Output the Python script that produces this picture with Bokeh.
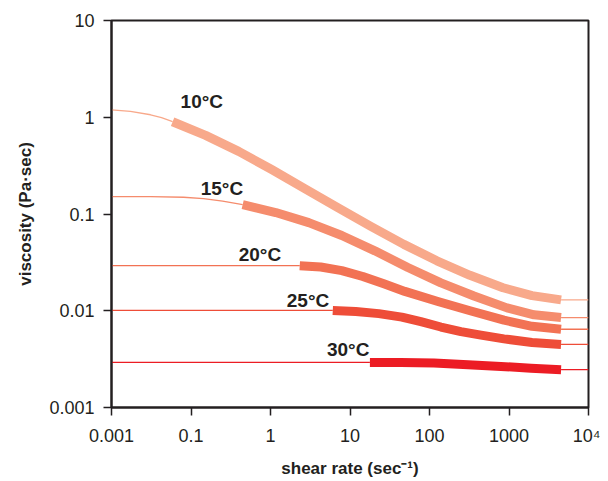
from bokeh.plotting import figure
from bokeh.models import FixedTicker, ColumnDataSource
from bokeh.core.properties import value
from bokeh.embed import file_html
from bokeh.resources import INLINE

# ---------------- data ----------------
temps = ["10°C", "15°C", "20°C", "25°C", "30°C"]
colors = ["#F8A98B", "#F58C6D", "#F27254", "#EE4D38", "#EC1C24"]

# measured range (thick segments): shear rate (1/s), viscosity (Pa·s)
meas_x_10 = [0.0587, 0.1527, 0.3977, 1.035, 2.696, 7.02, 18.28, 47.6, 123.9, 322.7, 840.4, 1949, 4517]
meas_y_10 = [0.899, 0.650, 0.4444, 0.2884, 0.1832, 0.1163, 0.0746, 0.0485, 0.03285, 0.02325, 0.0173, 0.01432, 0.01294]
meas_x_15 = [0.4466, 1.163, 3.028, 7.882, 20.53, 53.46, 139.2, 362.4, 943.6, 2064, 4517]
meas_y_15 = [0.1249, 0.1036, 0.0814, 0.0600, 0.0416, 0.02797, 0.01939, 0.01419, 0.01071, 0.00908, 0.00851]
meas_x_20 = [2.332, 4.287, 7.882, 14.50, 26.65, 48.99, 127.6, 332.2, 865.0, 1949, 4517]
meas_y_20 = [0.0292, 0.02829, 0.02599, 0.02261, 0.01897, 0.01585, 0.01246, 0.00993, 0.00799, 0.00690, 0.00644]
meas_x_25 = [6.072, 11.83, 23.05, 44.93, 77.93, 139.2, 248.6, 444.0, 865.0, 1949, 4517]
meas_y_25 = [0.01007, 0.00980, 0.00934, 0.00860, 0.00771, 0.00679, 0.00609, 0.00559, 0.00512, 0.00470, 0.00449]
meas_x_30 = [17.8, 43.6, 114, 305, 793, 1890, 4517]
meas_y_30 = [0.00292, 0.00291, 0.00288, 0.00277, 0.00266, 0.00254, 0.00246]

# model extension at low shear (thin segments)
low_x_10 = [0.01, 0.0173, 0.031, 0.0426, 0.0587]
low_y_10 = [1.19, 1.152, 1.061, 0.993, 0.899]
low_x_15 = [0.01, 0.031, 0.0807, 0.144, 0.250, 0.4466]
low_y_15 = [0.151, 0.151, 0.149, 0.1445, 0.1356, 0.1249]
low_x_20 = [0.01, 2.332]
low_y_20 = [0.0292, 0.0292]
low_x_25 = [0.01, 6.072]
low_y_25 = [0.01007, 0.01007]
low_x_30 = [0.01, 17.8]
low_y_30 = [0.00292, 0.00292]

# model extension at high shear (thin segments)
high_x = [4517, 10000]

x_ticks = [0.01, 0.1, 1, 10, 100, 1000, 10000]
x_tick_labels = ["0.001", "0.1", "1", "10", "100", "1000", "10⁴"]
y_ticks = [0.001, 0.01, 0.1, 1, 10]
y_tick_labels = ["0.001", "0.01", "0.1", "1", "10"]

meas_x = [meas_x_10, meas_x_15, meas_x_20, meas_x_25, meas_x_30]
meas_y = [meas_y_10, meas_y_15, meas_y_20, meas_y_25, meas_y_30]
low_x = [low_x_10, low_x_15, low_x_20, low_x_25, low_x_30]
low_y = [low_y_10, low_y_15, low_y_20, low_y_25, low_y_30]

# label offsets (screen px) from the start of each thick segment
label_dx = [8, -42, -61, -46, -43]
label_dy = [-20, -16, -11, -10, -13]

# ---------------- figure ----------------
INK = "#231F20"
FONT = "Liberation Sans"

p = figure(width=600, height=480, x_axis_type="log", y_axis_type="log",
           x_range=(x_ticks[0], x_ticks[-1]), y_range=(y_ticks[0], y_ticks[-1]),
           output_backend="svg", toolbar_location=None,
           min_border_left=111, min_border_right=12, min_border_top=20, min_border_bottom=70,
           x_axis_label="shear rate (sec⁻¹)", y_axis_label="viscosity (Pa·sec)")

p.xgrid.visible = False
p.ygrid.visible = False
p.outline_line_color = INK
p.outline_line_width = 2
p.outline_line_alpha = 1.0
p.background_fill_color = "white"
p.border_fill_color = "white"

p.xaxis[0].ticker = FixedTicker(ticks=x_ticks)
p.yaxis[0].ticker = FixedTicker(ticks=y_ticks)
p.xaxis[0].major_label_overrides = {t: l for t, l in zip(x_ticks, x_tick_labels)}
p.yaxis[0].major_label_overrides = {t: l for t, l in zip(y_ticks, y_tick_labels)}

for ax in (p.xaxis[0], p.yaxis[0]):
    ax.axis_line_color = INK
    ax.axis_line_width = 2
    ax.major_tick_line_color = INK
    ax.major_tick_line_width = 1.5
    ax.major_tick_out = 8
    ax.major_tick_in = 0
    ax.minor_tick_line_color = None
    ax.major_label_text_font = FONT
    ax.major_label_text_font_size = "18px"
    ax.major_label_text_color = INK
    ax.axis_label_text_font = FONT
    ax.axis_label_text_font_size = "17px"
    ax.axis_label_text_font_style = "bold"
    ax.axis_label_text_color = INK

p.yaxis[0].major_label_standoff = 9
p.yaxis[0].axis_label_standoff = 11
p.xaxis[0].major_label_standoff = 10
p.xaxis[0].axis_label_standoff = 10

for i in range(len(temps)):
    c = colors[i]
    p.line(low_x[i], low_y[i], line_color=c, line_width=1.3)
    p.line(high_x, [meas_y[i][-1], meas_y[i][-1]], line_color=c, line_width=1.3)
    p.line(meas_x[i], meas_y[i], line_color=c, line_width=9, line_cap="butt", line_join="round")

lab_src = ColumnDataSource(dict(
    x=[mx[0] for mx in meas_x],
    y=[my[0] for my in meas_y],
    t=temps, dx=label_dx, dy=label_dy))
p.text(x="x", y="y", text="t", source=lab_src, x_offset="dx", y_offset="dy",
       text_font=value(FONT), text_font_style="bold", text_font_size=value("19px"),
       text_color=INK, text_align="left", text_baseline="alphabetic")

open("out.html", "w").write(file_html(p, INLINE))
